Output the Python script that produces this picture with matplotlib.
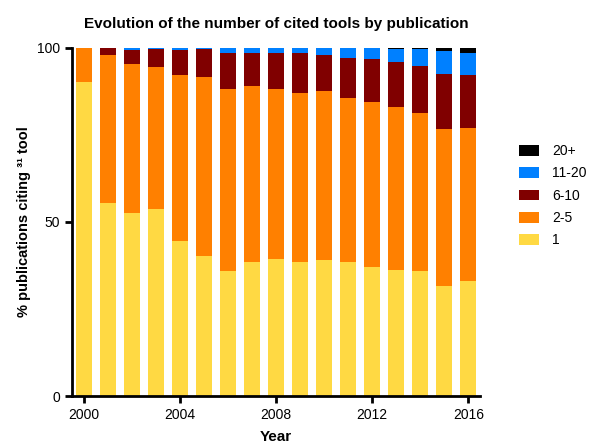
import numpy as np
import matplotlib.pyplot as plt

plt.rcParams['font.family'] = ['Liberation Sans', 'DejaVu Sans']

years = list(range(2000, 2017))

# share of publications (%) per number of cited tools
one = [90.1, 55.4, 52.5, 53.7, 44.5, 40.2, 35.8, 38.4, 39.4, 38.4, 39.1, 38.4, 37.1, 36.1, 35.8, 31.5, 32.9]
two_five = [9.9, 42.5, 42.9, 40.8, 47.8, 51.5, 52.3, 50.6, 48.7, 48.7, 48.6, 47.1, 47.3, 46.8, 45.4, 45.1, 44.2]
six_ten = [0.0, 2.1, 4.1, 5.3, 7.1, 7.9, 10.3, 9.6, 10.3, 11.3, 10.2, 11.6, 12.3, 12.9, 13.7, 16.0, 15.2]
eleven_twenty = [0.0, 0.0, 0.5, 0.2, 0.6, 0.4, 1.6, 1.4, 1.6, 1.6, 2.1, 2.9, 3.2, 3.9, 4.8, 6.6, 6.3]
twenty_plus = [0.0, 0.0, 0.0, 0.0, 0.0, 0.0, 0.0, 0.0, 0.0, 0.0, 0.0, 0.0, 0.1, 0.3, 0.3, 0.8, 1.4]

series = [
    ("1", one, "#FFD943"),
    ("2-5", two_five, "#FF8000"),
    ("6-10", six_ten, "#800000"),
    ("11-20", eleven_twenty, "#0080FF"),
    ("20+", twenty_plus, "#000000"),
]

fig = plt.figure(figsize=(5.9, 4.43), dpi=100)
ax = fig.add_axes([0.122, 0.106, 0.692, 0.786])

bottom = np.zeros(len(years))
handles = []
for label, vals, color in series:
    b = ax.bar(years, vals, width=0.66, bottom=bottom, color=color, label=label, linewidth=0)
    handles.append(b)
    bottom += np.array(vals)

ax.set_xlim(1999.5, 2016.5)
ax.set_ylim(0, 100)
ax.set_xticks(range(2000, 2017, 4))
ax.set_yticks([0, 50, 100])

for side in ("top", "right"):
    ax.spines[side].set_visible(False)
for side in ("left", "bottom"):
    ax.spines[side].set_linewidth(2)
ax.tick_params(width=2, length=5, labelsize=10, direction="out")

ax.set_title("Evolution of the number of cited tools by publication",
             fontsize=11, fontweight="bold", pad=14)
ax.set_xlabel("Year", fontsize=11, fontweight="bold", labelpad=6)
ax.set_ylabel("% publications citing ³¹ tool", fontsize=10.5, fontweight="bold", labelpad=4)

ax.legend(handles[::-1], [s[0] for s in series][::-1], loc="center left",
          bbox_to_anchor=(1.065, 0.575), frameon=False, fontsize=10,
          handlelength=1.45, handleheight=0.8, labelspacing=0.6, handletextpad=0.9)

fig.savefig("out.png", dpi=100)
